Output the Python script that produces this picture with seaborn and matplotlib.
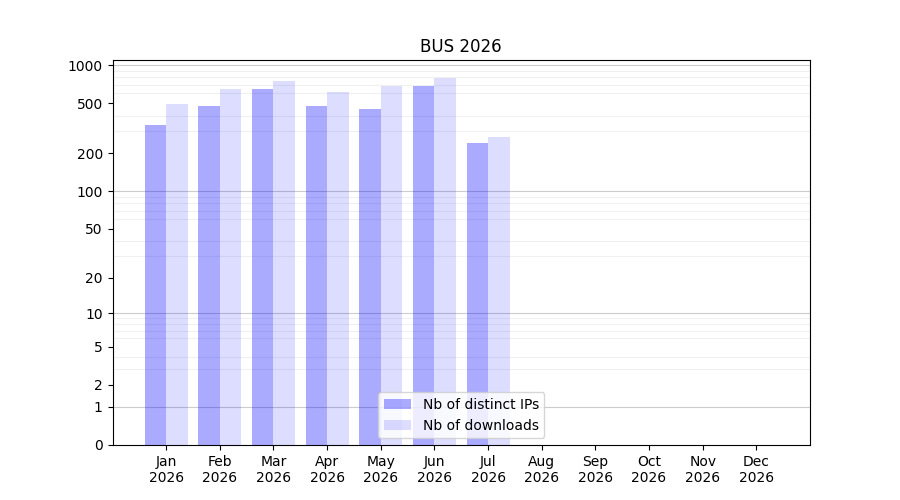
import numpy as np
import pandas as pd
import matplotlib
matplotlib.use("Agg")
import matplotlib.pyplot as plt
import seaborn as sns

months = ["Jan", "Feb", "Mar", "Apr", "May", "Jun", "Jul", "Aug", "Sep", "Oct", "Nov", "Dec"]
year = "2026"
ips = [338, 478, 652, 478, 453, 688, 243]
downloads = [496, 652, 754, 617, 688, 796, 271]
series = ["Nb of distinct IPs", "Nb of downloads"]
ytick_values = [0, 1, 2, 5, 10, 20, 50, 100, 200, 500, 1000]

rows = []
for i, v in enumerate(ips):
    rows.append({"month": months[i], "series": series[0], "value": v})
for i, v in enumerate(downloads):
    rows.append({"month": months[i], "series": series[1], "value": v})
data = pd.DataFrame(rows)


def fwd(x):
    x = np.asarray(x, dtype=float)
    return np.sign(x) * np.log10(1 + np.abs(x))


def inv(y):
    y = np.asarray(y, dtype=float)
    return np.sign(y) * (10 ** np.abs(y) - 1)


fig, ax = plt.subplots(figsize=(9, 5), dpi=100)
sns.barplot(data=data, x="month", y="value", hue="series", order=months,
            hue_order=series, palette=["#aaaaff", "#ddddff"], legend=False,
            errorbar=None, saturation=1, ax=ax)

colors = [(0, 0, 1, 1 / 3), (0, 0, 1, 0.135)]
for cont, col in zip(ax.containers, colors):
    for p in cont.patches:
        p.set_facecolor(col)
        p.set_edgecolor("none")

ax.set_yscale("function", functions=(fwd, inv))
ax.set_ylim(0, 1100)
ax.set_xlim(-1, 12)

ax.set_yticks(ytick_values)
ax.set_yticklabels([str(v) for v in ytick_values])
minor = []
for dec in [1, 10, 100]:
    for m in range(2, 10):
        minor.append(dec * m)
ax.set_yticks(minor, minor=True)
ax.tick_params(axis="y", which="minor", length=0)
ax.yaxis.grid(True, which="minor", color="black", alpha=0.06, linewidth=0.8)
for dec in [1, 10, 100, 1000]:
    ax.axhline(dec, color="black", alpha=0.2, linewidth=0.8, zorder=0.5)
ax.set_axisbelow(True)

ax.set_xticks(range(len(months)))
ax.set_xticklabels([m + "\n" + year for m in months])
ax.set_xlabel("")
ax.set_ylabel("")
ax.set_title("BUS 2026")

ax.legend(ax.containers, series, loc="lower center")

plt.savefig("out.png")
